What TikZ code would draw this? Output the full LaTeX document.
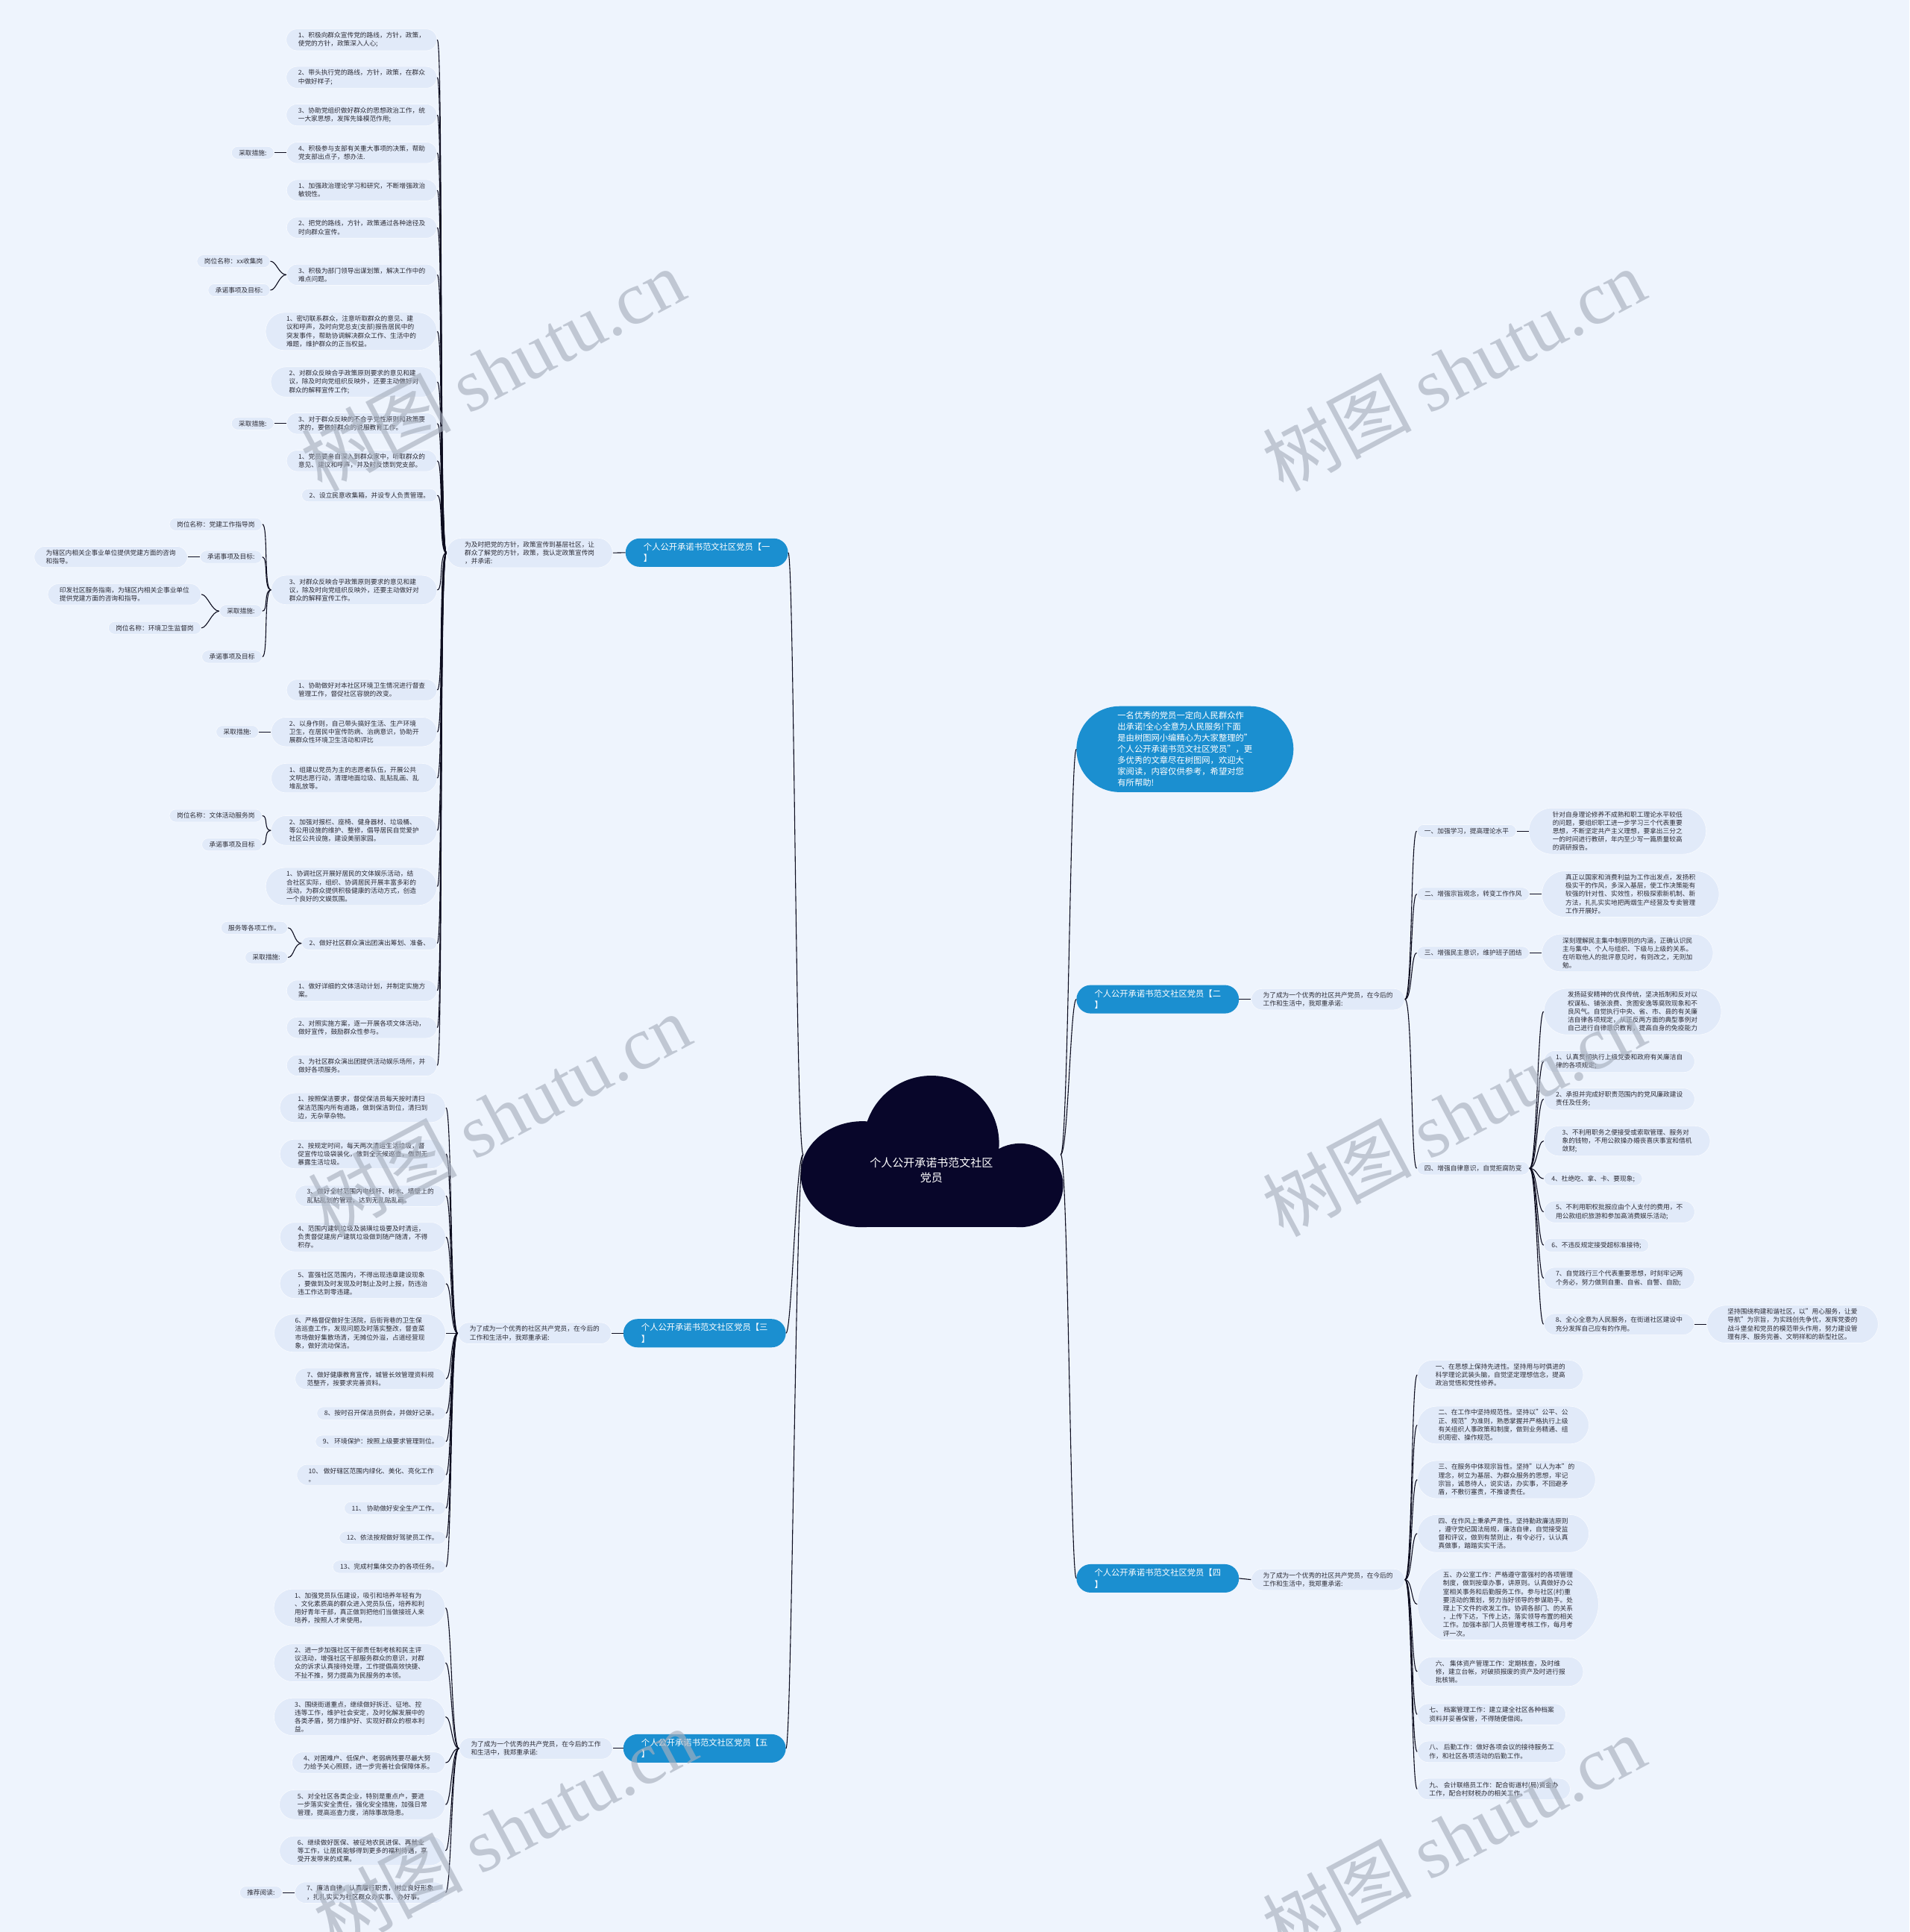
\documentclass[tikz,border=0pt]{standalone}
\usepackage{fontspec}
\setmainfont{Noto Sans CJK SC}
\newfontfamily\wmlatin{Liberation Serif}
\usetikzlibrary{shapes.misc,positioning}
\definecolor{bgcol}{RGB}{238,244,253}
\definecolor{leaffill}{RGB}{225,234,249}
\definecolor{leafline}{RGB}{247,250,255}
\definecolor{leaftext}{RGB}{45,45,55}
\definecolor{mainblue}{RGB}{27,143,208}
\definecolor{rootcol}{RGB}{8,6,42}
\definecolor{linecol}{RGB}{12,12,30}
\definecolor{wmcol}{RGB}{168,176,190}

\begin{document}
\begin{tikzpicture}[x=1.6516pt,y=-1.6516pt,
  node distance=16pt,
  leaf/.style={rounded rectangle,fill=leaffill,draw=leafline,line width=0.7pt,text=leaftext,align=left,
    font=\fontsize{8.7}{11.2}\selectfont,inner xsep=12pt,inner ysep=4.5pt},
  single/.style={inner xsep=9pt},
  wide/.style={inner xsep=17pt},
  mainnode/.style={rounded rectangle,fill=mainblue,text=white,align=left,
    font=\fontsize{11.3}{15.5}\selectfont,inner xsep=19pt,inner ysep=6pt},
  link/.style={draw=linecol,line width=1.1pt},
  lfan/.style={out=180,in=0,out distance=10pt,in distance=8pt},
  rfan/.style={out=0,in=180,out distance=10pt,in distance=8pt},
  wmark/.style={text=wmcol,opacity=0.65,rotate=28,font=\fontsize{100}{100}\selectfont}
]
\fill[bgcol] (0,0) rectangle (1550,1568);
\useasboundingbox (0,0) rectangle (1550,1568);

\fill[rootcol] (700,953) ellipse [x radius=50,y radius=43];
\fill[rootcol] (756,928) circle [radius=55];
\fill[rootcol] (828,962) ellipse [x radius=35,y radius=34];
\fill[rootcol] (700,950) rectangle (828,996);
\node[text=white,align=center,font=\fontsize{15}{20}\selectfont] (root) at (756,950) {个人公开承诺书范文社区\\党员};
\coordinate (rootw) at (652,937);
\coordinate (roote) at (861,937);

\node[mainnode,anchor=east] (one) at (639.8,448.5) {个人公开承诺书范文社区党员【一\\】};
\node[mainnode,anchor=east] (three) at (638,1082) {个人公开承诺书范文社区党员【三\\】};
\node[mainnode,anchor=east] (five) at (638,1419) {个人公开承诺书范文社区党员【五\\】};
\node[mainnode,anchor=west,font=\fontsize{11.3}{15.1}\selectfont,inner ysep=7pt,inner xsep=25pt] (intro) at (873.7,608) {一名优秀的党员一定向人民群众作\\出承诺!全心全意为人民服务!下面\\是由树图网小编精心为大家整理的"\\个人公开承诺书范文社区党员"，更\\多优秀的文章尽在树图网，欢迎大\\家阅读，内容仅供参考，希望对您\\有所帮助!};
\node[mainnode,anchor=west] (two) at (873.7,811) {个人公开承诺书范文社区党员【二\\】};
\node[mainnode,anchor=west] (four) at (873.7,1281) {个人公开承诺书范文社区党员【四\\】};

\node[leaf,wide,anchor=east] (onelab) at (497.5,448.7) {为及时把党的方针，政策宣传到基层社区，让\\群众了解党的方针，政策，我认定政策宣传岗\\，并承诺:};
\node[leaf,anchor=east] (threelab) at (496.5,1082) {为了成为一个优秀的社区共产党员，在今后的\\工作和生活中，我郑重承诺:};
\node[leaf,anchor=east] (fivelab) at (497.5,1419) {为了成为一个优秀的共产党员，在今后的工作\\和生活中，我郑重承诺:};
\node[leaf,anchor=west] (twolab) at (1015.5,811) {为了成为一个优秀的社区共产党员，在今后的\\工作和生活中，我郑重承诺:};
\node[leaf,anchor=west] (fourlab) at (1015.5,1282) {为了成为一个优秀的社区共产党员，在今后的\\工作和生活中，我郑重承诺:};

\node[leaf,anchor=east] (l1) at (355,32.3) {1、积极向群众宣传党的路线，方针，政策，\\使党的方针，政策深入人心;};
\node[leaf,anchor=east] (l2) at (355,62.8) {2、带头执行党的路线，方针，政策，在群众\\中做好样子;};
\node[leaf,anchor=east] (l3) at (355,93.3) {3、协助党组织做好群众的思想政治工作，统\\一大家思想，发挥先锋模范作用;};
\node[leaf,anchor=east] (l4) at (355,124) {4、积极参与支部有关重大事项的决策，帮助\\党支部出点子，想办法.};
\node[leaf,anchor=east] (l5) at (355,154.4) {1、加强政治理论学习和研究，不断增强政治\\敏锐性。};
\node[leaf,anchor=east] (l6) at (355,184.7) {2、把党的路线，方针，政策通过各种途径及\\时向群众宣传。};
\node[leaf,anchor=east] (l7) at (355,223) {3、积极为部门领导出谋划策，解决工作中的\\难点问题。};
\node[leaf,wide,anchor=east] (l8) at (355,269) {1、密切联系群众，注意听取群众的意见、建\\议和呼声，及时向党总支(支部)报告居民中的\\突发事件，帮助协调解决群众工作、生活中的\\难题，维护群众的正当权益。};
\node[leaf,wide,anchor=east] (l9) at (355,310) {2、对群众反映合乎政策原则要求的意见和建\\议，除及时向党组织反映外，还要主动做好对\\群众的解释宣传工作;};
\node[leaf,anchor=east] (l10) at (355,343.7) {3、对于群众反映的不合乎党性原则和政策要\\求的，要做好群众的说服教育工作。};
\node[leaf,anchor=east] (l11) at (355,374) {1、党员要亲自深入到群众家中，听取群众的\\意见、建议和呼声，并及时反馈到党支部。};
\node[leaf,single,anchor=east] (l12) at (355,402) {2、设立民意收集箱，并设专人负责管理。};
\node[leaf,wide,anchor=east] (l13) at (355,478.8) {3、对群众反映合乎政策原则要求的意见和建\\议，除及时向党组织反映外，还要主动做好对\\群众的解释宣传工作。};
\node[leaf,anchor=east] (l14) at (355,560) {1、协助做好对本社区环境卫生情况进行督查\\管理工作，督促社区容貌的改变。};
\node[leaf,wide,anchor=east] (l15) at (355,594) {2、以身作则，自己带头搞好生活、生产环境\\卫生，在居民中宣传防病、治病意识，协助开\\展群众性环境卫生活动和评比};
\node[leaf,wide,anchor=east] (l16) at (355,631.5) {1、组建以党员为主的志愿者队伍，开展公共\\文明志愿行动，清理地面垃圾、乱贴乱画、乱\\堆乱放等。};
\node[leaf,wide,anchor=east] (l17) at (355,674) {2、加强对报栏、座椅、健身器材、垃圾桶、\\等公用设施的维护、整修，倡导居民自觉爱护\\社区公共设施，建设美丽家园。};
\node[leaf,wide,anchor=east] (l18) at (355,719.5) {1、协调社区开展好居民的文体娱乐活动，结\\合社区实际，组织、协调居民开展丰富多彩的\\活动，为群众提供积极健康的活动方式，创造\\一个良好的文娱氛围。};
\node[leaf,single,anchor=east] (l19) at (355,765.6) {2、做好社区群众演出团演出筹划、准备、};
\node[leaf,anchor=east] (l20) at (355,804) {1、做好详细的文体活动计划，并制定实施方\\案。};
\node[leaf,anchor=east] (l21) at (355,834) {2、对照实施方案，逐一开展各项文体活动，\\做好宣传，鼓励群众性参与。};
\node[leaf,anchor=east] (l22) at (355,864.7) {3、为社区群众演出团提供活动娱乐场所，并\\做好各项服务。};

\node[leaf,single,left=of l4] (l4c) {采取措施:};
\node[leaf,single,anchor=east] (l7a) at (219.5,212) {岗位名称：xx收集岗};
\node[leaf,single,anchor=east] (l7b) at (219.5,235.5) {承诺事项及目标:};
\node[leaf,single,left=of l10] (l10c) {采取措施:};
\node[leaf,single,anchor=east] (l13a) at (213,425.5) {岗位名称：党建工作指导岗};
\node[leaf,single,anchor=east] (l13b) at (213,452) {承诺事项及目标:};
\node[leaf,left=of l13b] (l13b1) {为辖区内相关企事业单位提供党建方面的咨询\\和指导。};
\node[leaf,single,anchor=east] (l13c) at (213,496) {采取措施:};
\node[leaf,anchor=east] (l13c1) at (163.5,482.4) {印发社区服务指南，为辖区内相关企事业单位\\提供党建方面的咨询和指导。};
\node[leaf,single,anchor=east] (l13c2) at (163.5,509.6) {岗位名称：环境卫生监督岗};
\node[leaf,single,anchor=east] (l13d) at (213,533) {承诺事项及目标};
\node[leaf,single,left=of l15] (l15c) {采取措施:};
\node[leaf,single,anchor=east] (l17a) at (213,662) {岗位名称：文体活动服务岗};
\node[leaf,single,anchor=east] (l17b) at (213,685.5) {承诺事项及目标};
\node[leaf,single,anchor=east] (l19a) at (233.8,753) {服务等各项工作。};
\node[leaf,single,anchor=east] (l19b) at (233.8,777) {采取措施:};

\node[leaf,wide,anchor=east] (t1) at (362,899) {1、按照保洁要求，督促保洁员每天按时清扫\\保洁范围内所有道路，做到保洁到位，清扫到\\边，无杂草杂物。};
\node[leaf,wide,anchor=east] (t2) at (362,936.5) {2、按规定时间，每天两次清运生活垃圾，督\\促宣传垃圾袋装化，做到全天候巡查，做到无\\暴露生活垃圾。};
\node[leaf,anchor=east] (t3) at (362,970.6) {3、做好全村范围内电线杆、树木、墙壁上的\\乱贴乱划的管理，达到无乱贴乱画。};
\node[leaf,wide,anchor=east] (t4) at (362,1004) {4、范围内建筑垃圾及装璜垃圾要及时清运，\\负责督促建房户建筑垃圾做到随产随清，不得\\积存。};
\node[leaf,wide,anchor=east] (t5) at (362,1041.8) {5、富强社区范围内，不得出现违章建设现象\\，要做到及时发现及时制止及时上报，防违治\\违工作达到零违建。};
\node[leaf,wide,anchor=east] (t6) at (362,1082) {6、严格督促做好生活院，后街背巷的卫生保\\洁巡查工作，发现问题及时落实整改，督查菜\\市场做好集散场清，无摊位外溢，占道经营现\\象，做好流动保洁。};
\node[leaf,anchor=east] (t7) at (362,1119) {7、做好健康教育宣传，城管长效管理资料规\\范整齐，按要求完善资料。};
\node[leaf,single,anchor=east] (t8) at (362,1147) {8、按时召开保洁员例会，并做好记录。};
\node[leaf,single,anchor=east] (t9) at (362,1170) {9、 环境保护：按照上级要求管理到位。};
\node[leaf,anchor=east] (t10) at (362,1197) {10、 做好辖区范围内绿化、美化、亮化工作\\。};
\node[leaf,single,anchor=east] (t11) at (362,1224) {11、 协助做好安全生产工作。};
\node[leaf,single,anchor=east] (t12) at (362,1248) {12、依法按规做好驾驶员工作。};
\node[leaf,single,anchor=east] (t13) at (362,1271.6) {13、完成村集体交办的各项任务。};

\node[leaf,wide,anchor=east] (f1) at (361.7,1305) {1、加强党员队伍建设，吸引和培养年轻有为\\、文化素质高的群众进入党员队伍，培养和利\\用好青年干部，真正做到把他们当做接班人来\\培养，按照人才来使用。};
\node[leaf,wide,anchor=east] (f2) at (361.7,1349.5) {2、进一步加强社区干部责任制考核和民主评\\议活动，增强社区干部服务群众的意识，对群\\众的诉求认真接待处理，工作提倡高效快捷、\\不扯不推，努力提高为民服务的本领。};
\node[leaf,wide,anchor=east] (f3) at (361.7,1393.3) {3、围绕街道重点，继续做好拆迁、征地、控\\违等工作，维护社会安定，及时化解发展中的\\各类矛盾，努力维护好、实现好群众的根本利\\益。};
\node[leaf,anchor=east] (f4) at (361.7,1430.6) {4、对困难户、低保户、老弱病残要尽最大努\\力给予关心照顾，进一步完善社会保障体系。};
\node[leaf,wide,anchor=east] (f5) at (361.7,1464.6) {5、对全社区各类企业，特别是重点户，要进\\一步落实安全责任，强化安全措施，加强日常\\管理，提高巡查力度，消除事故隐患。};
\node[leaf,wide,anchor=east] (f6) at (361.7,1502) {6、继续做好医保、被征地农民进保、再就业\\等工作，让居民能够得到更多的福利待遇，享\\受开发带来的成果。};
\node[leaf,anchor=east] (f7) at (361.7,1536) {7、廉洁自律，认真履行职责，树立良好形象\\，扎扎实实为社区群众办实事、办好事。};
\node[leaf,single,left=of f7] (f7c) {推荐阅读:};

\node[leaf,single,anchor=west] (q1) at (1150,674.5) {一、加强学习，提高理论水平};
\node[leaf,single,anchor=west] (q2) at (1150,725.6) {二、增强宗旨观念，转变工作作风};
\node[leaf,single,anchor=west] (q3) at (1150,773.4) {三、增强民主意识，维护班子团结};
\node[leaf,single,anchor=west] (q4) at (1150,948.2) {四、增强自律意识，自觉拒腐防变};
\node[leaf,wide,right=of q1] (p1) {针对自身理论修养不成熟和职工理论水平较低\\的问题，要组织职工进一步学习三个代表重要\\思想，不断坚定共产主义理想，要拿出三分之\\一的时间进行教研，年内至少写一篇质量较高\\的调研报告。};
\node[leaf,wide,right=of q2] (p2) {真正以国家和消费利益为工作出发点，发扬积\\极实干的作风，多深入基层，使工作决策能有\\较强的针对性、实效性，积极探索新机制、新\\方法，扎扎实实地把两烟生产经营及专卖管理\\工作开展好。};
\node[leaf,wide,right=of q3] (p3) {深刻理解民主集中制原则的内涵，正确认识民\\主与集中、个人与组织、下级与上级的关系。\\在听取他人的批评意见时，有则改之，无则加\\勉。};
\node[leaf,wide,anchor=west] (d0) at (1253,821) {发扬延安精神的优良传统，坚决抵制和反对以\\权谋私、铺张浪费、贪图安逸等腐败现象和不\\良风气。自觉执行中央、省、市、县的有关廉\\洁自律各项规定，从正反两方面的典型事例对\\自己进行自律意识教育，提高自身的免疫能力};
\node[leaf,anchor=west] (d1) at (1253,861.5) {1、认真贯彻执行上级党委和政府有关廉洁自\\律的各项规定;};
\node[leaf,anchor=west] (d2) at (1253,892) {2、承担并完成好职责范围内的党风廉政建设\\责任及任务;};
\node[leaf,wide,anchor=west] (d3) at (1253,926) {3、不利用职务之便接受或索取管理、服务对\\象的钱物，不用公款操办婚丧喜庆事宜和借机\\敛财;};
\node[leaf,single,anchor=west] (d4) at (1253,956.6) {4、杜绝吃、拿、卡、要现象;};
\node[leaf,anchor=west] (d5) at (1253,983.5) {5、不利用职权批报应由个人支付的费用，不\\用公款组织旅游和参加高消费娱乐活动;};
\node[leaf,single,anchor=west] (d6) at (1253,1010.6) {6、不违反规定接受超标准接待;};
\node[leaf,anchor=west] (d7) at (1253,1037.4) {7、自觉践行三个代表重要思想，时刻牢记两\\个务必，努力做到自重、自省、自警、自励;};
\node[leaf,anchor=west] (d8) at (1253,1074.7) {8、全心全意为人民服务，在街道社区建设中\\充分发挥自己应有的作用。};
\node[leaf,wide,right=of d8] (d8a) {坚持围绕构建和谐社区，以"用心服务，让爱\\导航"为宗旨，为实践创先争优，发挥党委的\\战斗堡垒和党员的模范带头作用，努力建设管\\理有序、服务完善、文明祥和的新型社区。};

\node[leaf,wide,anchor=west] (r1) at (1150.4,1115.8) {一、在思想上保持先进性。坚持用与时俱进的\\科学理论武装头脑，自觉坚定理想信念，提高\\政治觉悟和党性修养。};
\node[leaf,wide,anchor=west] (r2) at (1150.4,1156.6) {二、在工作中坚持规范性。坚持以"公平、公\\正、规范"为准则，熟悉掌握并严格执行上级\\有关组织人事政策和制度，做到业务精通、组\\织周密、操作规范。};
\node[leaf,wide,anchor=west] (r3) at (1150.4,1200.8) {三、在服务中体现宗旨性。坚持"以人为本"的\\理念，树立为基层、为群众服务的思想，牢记\\宗旨，诚恳待人，说实话，办实事，不回避矛\\盾，不敷衍塞责，不推诿责任。};
\node[leaf,wide,anchor=west] (r4) at (1150.4,1244.6) {四、在作风上秉承严肃性。坚持勤政廉洁原则\\，遵守党纪国法局规，廉洁自律，自觉接受监\\督和评议，做到有禁则止，有令必行，认认真\\真做事，踏踏实实干活。};
\node[leaf,anchor=west,rounded rectangle arc length=135,inner xsep=11pt] (r5) at (1150.4,1302) {五、办公室工作：严格遵守富强村的各项管理\\制度，做到按章办事，讲原则。认真做好办公\\室相关事务和后勤服务工作。参与社区(村)重\\要活动的策划，努力当好领导的参谋助手。处\\理上下文件的收发工作。协调各部门、的关系\\，上传下达，下传上达，落实领导布置的相关\\工作。加强本部门人员管理考核工作，每月考\\评一次。};
\node[leaf,wide,anchor=west] (r6) at (1150.4,1356.7) {六、 集体资产管理工作：定期核查，及时维\\修，建立台帐，对破损报废的资产及时进行报\\批核销。};
\node[leaf,anchor=west] (r7) at (1150.4,1391.4) {七、 档案管理工作：建立建全社区各种档案\\资料并妥善保管，不得随便借阅。};
\node[leaf,anchor=west] (r8) at (1150.4,1421.7) {八、 后勤工作：做好各项会议的接待服务工\\作，和社区各项活动的后勤工作。};
\node[leaf,anchor=west] (r9) at (1150.4,1452) {九、 会计联络员工作：配合街道村(局)资金办\\工作，配合村财税办的相关工作。};

\foreach \n in {one,three,five} \draw[link] (rootw) to[lfan] (\n.east);
\foreach \n in {intro,two,four} \draw[link] (roote) to[rfan] (\n.west);
\draw[link] (one.west) -- (onelab.east);
\draw[link] (three.west) -- (threelab.east);
\draw[link] (five.west) -- (fivelab.east);
\draw[link] (two.east) -- (twolab.west);
\draw[link] (four.east) -- (fourlab.west);
\foreach \i in {1,...,22} \draw[link] (onelab.west) to[lfan] (l\i.east);
\foreach \i in {1,...,13} \draw[link] (threelab.west) to[lfan] (t\i.east);
\foreach \i in {1,...,7} \draw[link] (fivelab.west) to[lfan] (f\i.east);
\foreach \i in {1,...,4} \draw[link] (twolab.east) to[rfan] (q\i.west);
\foreach \i in {1,2,3} \draw[link] (q\i.east) -- (p\i.west);
\foreach \i in {0,...,8} \draw[link] (q4.east) to[rfan] (d\i.west);
\draw[link] (d8.east) -- (d8a.west);
\foreach \i in {1,...,9} \draw[link] (fourlab.east) to[rfan] (r\i.west);
\draw[link] (l4.west) -- (l4c.east);
\draw[link] (l10.west) -- (l10c.east);
\draw[link] (l15.west) -- (l15c.east);
\draw[link] (f7.west) -- (f7c.east);
\draw[link] (l13b.west) -- (l13b1.east);
\foreach \n in {l7a,l7b} \draw[link] (l7.west) to[lfan] (\n.east);
\foreach \n in {l13a,l13b,l13c,l13d} \draw[link] (l13.west) to[lfan] (\n.east);
\foreach \n in {l13c1,l13c2} \draw[link] (l13c.west) to[lfan] (\n.east);
\foreach \n in {l17a,l17b} \draw[link] (l17.west) to[lfan] (\n.east);
\foreach \n in {l19a,l19b} \draw[link] (l19.west) to[lfan] (\n.east);

\node[wmark] (wm1) at (400,300) {树图 {\wmlatin shutu.cn}};
\node[wmark] (wm2) at (1180,300) {树图 {\wmlatin shutu.cn}};
\node[wmark] (wm3) at (405,905) {树图 {\wmlatin shutu.cn}};
\node[wmark] (wm4) at (1180,905) {树图 {\wmlatin shutu.cn}};
\node[wmark] (wm5) at (410,1485) {树图 {\wmlatin shutu.cn}};
\node[wmark] (wm6) at (1180,1490) {树图 {\wmlatin shutu.cn}};
\end{tikzpicture}
\end{document}
